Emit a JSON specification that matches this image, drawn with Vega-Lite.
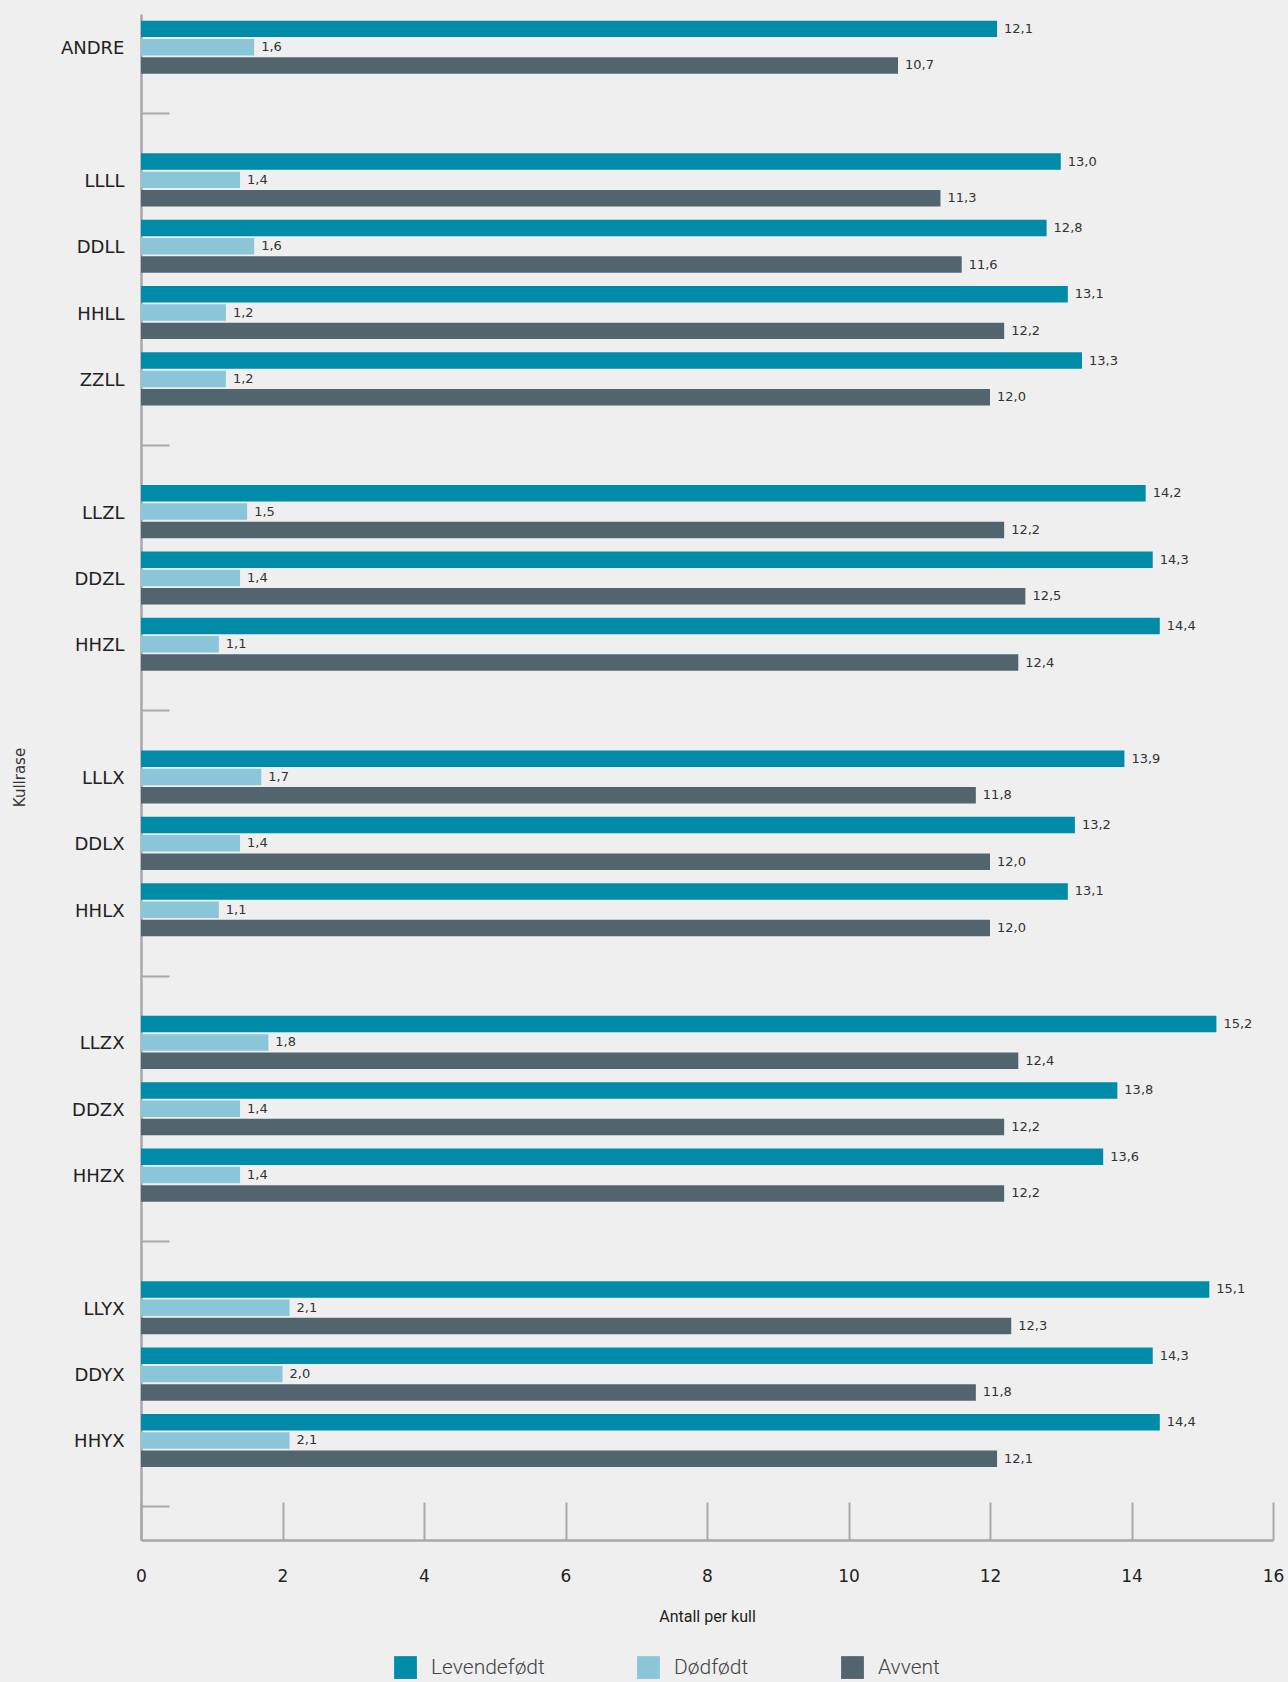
{
  "$schema": "https://vega.github.io/schema/vega-lite/v6.json",
  "width": 1132,
  "height": 1526,
  "autosize": {"type": "none"},
  "padding": {"left": 141, "top": 14, "right": 15, "bottom": 142},
  "background": "#efefef",
  "config": {
    "view": {"stroke": null},
    "locale": {"number": {"decimal": ",", "thousands": " ", "grouping": [3], "currency": ["", " kr"]}}
  },
  "data": {
    "values": [
      {"kull": "ANDRE", "Levendefødt": 12.1, "Dødfødt": 1.6, "Avvent": 10.7},
      {"kull": "LLLL", "Levendefødt": 13.0, "Dødfødt": 1.4, "Avvent": 11.3},
      {"kull": "DDLL", "Levendefødt": 12.8, "Dødfødt": 1.6, "Avvent": 11.6},
      {"kull": "HHLL", "Levendefødt": 13.1, "Dødfødt": 1.2, "Avvent": 12.2},
      {"kull": "ZZLL", "Levendefødt": 13.3, "Dødfødt": 1.2, "Avvent": 12.0},
      {"kull": "LLZL", "Levendefødt": 14.2, "Dødfødt": 1.5, "Avvent": 12.2},
      {"kull": "DDZL", "Levendefødt": 14.3, "Dødfødt": 1.4, "Avvent": 12.5},
      {"kull": "HHZL", "Levendefødt": 14.4, "Dødfødt": 1.1, "Avvent": 12.4},
      {"kull": "LLLX", "Levendefødt": 13.9, "Dødfødt": 1.7, "Avvent": 11.8},
      {"kull": "DDLX", "Levendefødt": 13.2, "Dødfødt": 1.4, "Avvent": 12.0},
      {"kull": "HHLX", "Levendefødt": 13.1, "Dødfødt": 1.1, "Avvent": 12.0},
      {"kull": "LLZX", "Levendefødt": 15.2, "Dødfødt": 1.8, "Avvent": 12.4},
      {"kull": "DDZX", "Levendefødt": 13.8, "Dødfødt": 1.4, "Avvent": 12.2},
      {"kull": "HHZX", "Levendefødt": 13.6, "Dødfødt": 1.4, "Avvent": 12.2},
      {"kull": "LLYX", "Levendefødt": 15.1, "Dødfødt": 2.1, "Avvent": 12.3},
      {"kull": "DDYX", "Levendefødt": 14.3, "Dødfødt": 2.0, "Avvent": 11.8},
      {"kull": "HHYX", "Levendefødt": 14.4, "Dødfødt": 2.1, "Avvent": 12.1}
    ]
  },
  "transform": [
    {"fold": ["Levendefødt", "Dødfødt", "Avvent"], "as": ["serie", "verdi"]}
  ],
  "encoding": {
    "y": {
      "field": "kull",
      "type": "nominal",
      "scale": {
        "domain": ["ANDRE", "s1", "LLLL", "DDLL", "HHLL", "ZZLL", "s2", "LLZL", "DDZL", "HHZL", "s3", "LLLX", "DDLX", "HHLX", "s4", "LLZX", "DDZX", "HHZX", "s5", "LLYX", "DDYX", "HHYX", "s6"],
        "paddingInner": 0.2,
        "paddingOuter": 0.1
      },
      "axis": {
        "title": "Kullrase",
        "titleFont": "DejaVu Sans",
        "titleFontSize": 15,
        "titleFontWeight": "normal",
        "titleColor": "#333333",
        "titlePadding": 33,
        "labelExpr": "indexof(datum.value, 's') == 0 ? '' : datum.value",
        "labelFont": "DejaVu Sans",
        "labelFontSize": 18,
        "labelColor": "#222222",
        "labelPadding": 45,
        "labelBaseline": "middle",
        "labelOffset": 2,
        "domainColor": "#a8a8ac",
        "domainWidth": 2.5,
        "tickSize": -28,
        "tickWidth": 2,
        "tickColor": {"condition": {"test": "indexof(datum.value, 's') == 0", "value": "#a8a8ac"}, "value": "transparent"}
      }
    },
    "yOffset": {
      "field": "serie",
      "type": "nominal",
      "sort": ["Levendefødt", "Dødfødt", "Avvent"],
      "scale": {"paddingInner": 0.1, "paddingOuter": 0}
    },
    "x": {
      "field": "verdi",
      "type": "quantitative",
      "scale": {"domain": [0, 16], "nice": false},
      "axis": {
        "title": "Antall per kull",
        "titleFont": "Roboto",
        "titleFontSize": 16,
        "titleFontWeight": "normal",
        "titleColor": "#222222",
        "titlePadding": 24,
        "values": [0, 2, 4, 6, 8, 10, 12, 14, 16],
        "grid": false,
        "labelFont": "DejaVu Sans",
        "labelFontSize": 17,
        "labelColor": "#222222",
        "labelPadding": 66,
        "labelFlush": false,
        "domainColor": "#a8a8ac",
        "domainWidth": 2.5,
        "tickSize": -38,
        "tickWidth": 2,
        "tickColor": "#a8a8ac"
      }
    }
  },
  "layer": [
    {
      "mark": {"type": "bar"},
      "encoding": {
        "color": {
          "field": "serie",
          "type": "nominal",
          "sort": ["Levendefødt", "Dødfødt", "Avvent"],
          "scale": {"domain": ["Levendefødt", "Dødfødt", "Avvent"], "range": ["#008ba8", "#8bc5d8", "#52646e"]},
          "legend": {
            "title": null,
            "orient": "none",
            "direction": "horizontal",
            "legendX": 253,
            "legendY": 1642,
            "symbolType": "square",
            "symbolSize": 520,
            "symbolStrokeWidth": 0,
            "labelFont": "Roboto",
            "labelFontWeight": 300,
            "labelFontSize": 21,
            "labelColor": "#444444",
            "labelOffset": 14,
            "columnPadding": 92
          }
        }
      }
    },
    {
      "mark": {"type": "text", "align": "left", "baseline": "middle", "dx": 7, "font": "DejaVu Sans", "fontSize": 13, "color": "#333333"},
      "encoding": {
        "text": {"field": "verdi", "type": "quantitative", "format": ".1f"}
      }
    }
  ]
}
